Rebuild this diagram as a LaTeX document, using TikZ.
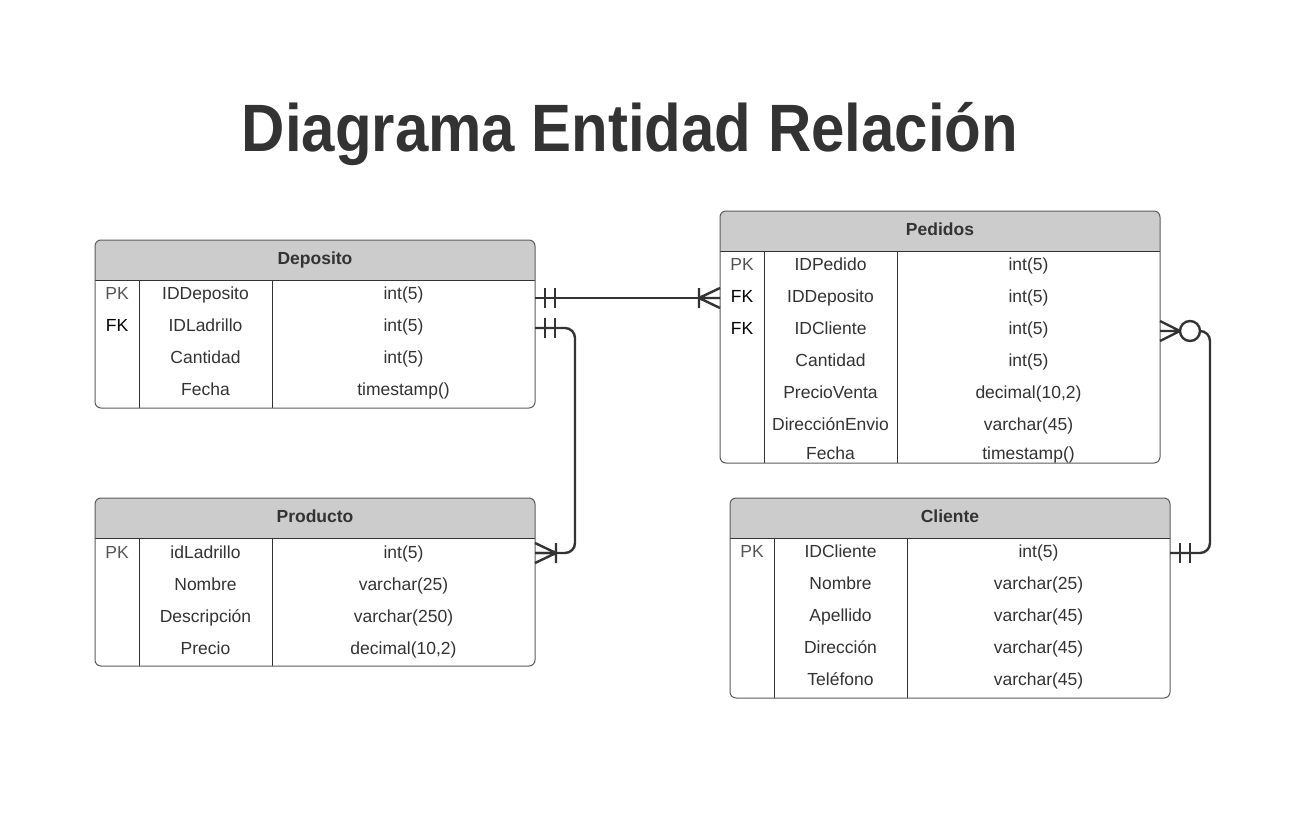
\documentclass[tikz,border=0pt]{standalone}
\usepackage{fontspec}
\setmainfont{Liberation Sans}
\newfontfamily\titlefont[FakeStretch=0.895]{Liberation Sans}
\usetikzlibrary{calc}
\definecolor{erink}{HTML}{333333}
\definecolor{erhead}{HTML}{CCCCCC}
\definecolor{erframe}{HTML}{5C5C5C}
\definecolor{erpk}{HTML}{555555}
\newcommand{\pkey}{\textcolor{erpk}{PK}}
\newcommand{\fkey}{\textcolor{black}{FK}}
\tikzset{
  tablebox/.style={inner sep=0pt, outer sep=0pt, anchor=north west},
  frameline/.style={draw=erframe, line width=1pt, rounded corners=6pt},
  gridline/.style={draw=erink, line width=1pt},
  headtext/.style={font=\fontsize{17.5}{21}\selectfont\bfseries, text=erink, anchor=base, inner sep=0pt},
  celltext/.style={font=\fontsize{17.5}{21}\selectfont, text=erink, anchor=base, inner sep=0pt},
  titletext/.style={font=\titlefont\fontsize{67}{80}\selectfont\bfseries, text=erink, anchor=base, inner sep=0pt},
  rel/.style={draw=erink, line width=2.4pt},
  relmark/.style={draw=erink, line width=2.4pt},
  onlyone/.pic={\draw[relmark] (10,-10) -- (10,10) (20,-10) -- (20,10);},
  onemany/.pic={\draw[relmark] (0,-10) -- (21,0) -- (0,10) (0,0) -- (21,0) (21,-10) -- (21,10);},
  zeromany/.pic={\draw[relmark] (0,-10) -- (20,0) -- (0,10) (0,0) -- (20,0);
                 \draw[relmark, fill=white] (30,0) circle (10);}
}
% table frame: name, west x, north y, south y, title
\newcommand{\ertable}[5]{%
  \node[tablebox, minimum width=440pt, minimum height={(#4-#3)*1pt}] (#1) at (#2,#3) {};
  \begin{scope}
    \clip[rounded corners=6pt] (#1.north west) rectangle (#1.south east);
    \fill[erhead] (#1.north west) rectangle ($(#1.north east)+(0,40)$);
  \end{scope}
  \draw[gridline] ($(#1.north west)+(0,40)$) -- ($(#1.north east)+(0,40)$);
  \draw[gridline] ($(#1.north west)+(44,40)$) -- ($(#1.south west)+(44,0)$);
  \draw[gridline] ($(#1.north west)+(177,40)$) -- ($(#1.south west)+(177,0)$);
  \draw[frameline] (#1.north west) rectangle (#1.south east);
  \node[headtext] (#1-head) at ($(#1.north)+(0,24)$) {#5};}
% table row: table, index, baseline y, key, field, type
\newcommand{\errow}[6]{%
  \node[celltext] (#1-k#2) at ($(#1.west |- 0,#3)+(22,0)$) {#4};
  \node[celltext] (#1-n#2) at ($(#1.west |- 0,#3)+(110.5,0)$) {#5};
  \node[celltext] (#1-t#2) at ($(#1.west |- 0,#3)+(308.5,0)$) {#6};}

\begin{document}
\begin{tikzpicture}[x=1pt, y=-1pt]
  \fill[white] (0,0) rectangle (1310,814);
  \useasboundingbox (0,0) rectangle (1310,814);

  \node[titletext] (title) at (630,151) {Diagrama Entidad Relación};

  % Deposito
  \ertable{dep}{95}{240}{408}{Deposito}
  \errow{dep}{1}{299}{\pkey}{IDDeposito}{int(5)}
  \errow{dep}{2}{331}{\fkey}{IDLadrillo}{int(5)}
  \errow{dep}{3}{363}{}{Cantidad}{int(5)}
  \errow{dep}{4}{395}{}{Fecha}{timestamp()}

  % Producto
  \ertable{prod}{95}{498}{666}{Producto}
  \errow{prod}{1}{558}{\pkey}{idLadrillo}{int(5)}
  \errow{prod}{2}{590}{}{Nombre}{varchar(25)}
  \errow{prod}{3}{622}{}{Descripción}{varchar(250)}
  \errow{prod}{4}{654}{}{Precio}{decimal(10,2)}

  % Pedidos
  \ertable{ped}{720}{211}{463}{Pedidos}
  \errow{ped}{1}{270}{\pkey}{IDPedido}{int(5)}
  \errow{ped}{2}{302}{\fkey}{IDDeposito}{int(5)}
  \errow{ped}{3}{334}{\fkey}{IDCliente}{int(5)}
  \errow{ped}{4}{366}{}{Cantidad}{int(5)}
  \errow{ped}{5}{398}{}{PrecioVenta}{decimal(10,2)}
  \errow{ped}{6}{430}{}{DirecciónEnvio}{varchar(45)}
  \errow{ped}{7}{459}{}{Fecha}{timestamp()}

  % Cliente
  \ertable{cli}{730}{498}{698}{Cliente}
  \errow{cli}{1}{557}{\pkey}{IDCliente}{int(5)}
  \errow{cli}{2}{589}{}{Nombre}{varchar(25)}
  \errow{cli}{3}{621}{}{Apellido}{varchar(45)}
  \errow{cli}{4}{653}{}{Dirección}{varchar(45)}
  \errow{cli}{5}{685}{}{Teléfono}{varchar(45)}

  % relations
  \coordinate (depout) at (dep.east |- 0,298);
  \coordinate (pedin) at (ped.west |- 0,298);
  \draw[rel] (depout) -- (pedin);
  \pic at (depout) {onlyone};
  \pic[xscale=-1] at (pedin) {onemany};

  \coordinate (ladout) at (dep.east |- 0,328);
  \coordinate (prodin) at (prod.east |- 0,553);
  \draw[rel, rounded corners=10pt] (ladout) -- ++(40,0) |- (prodin);
  \pic at (ladout) {onlyone};
  \pic at (prodin) {onemany};

  \coordinate (cliout) at (ped.east |- 0,331);
  \coordinate (cliin) at (cli.east |- 0,553);
  \draw[rel, rounded corners=10pt] ([xshift=40pt]cliout) -- ++(10,0) |- (cliin);
  \pic at (cliout) {zeromany};
  \pic at (cliin) {onlyone};
\end{tikzpicture}
\end{document}
